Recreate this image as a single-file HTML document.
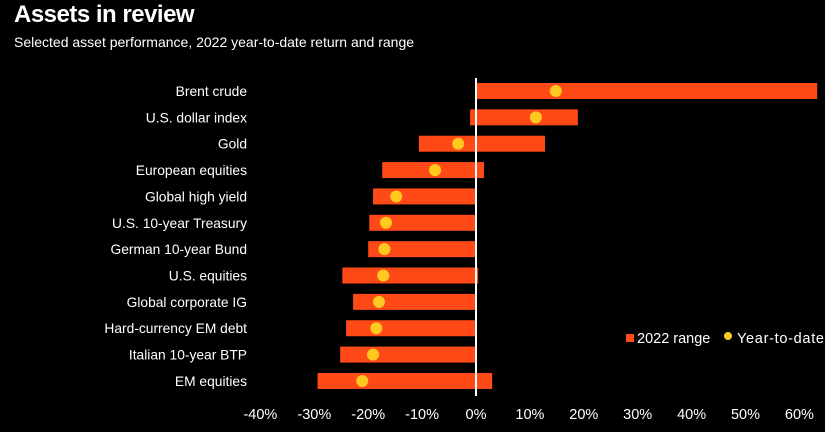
<!DOCTYPE html>
<html><head><meta charset="utf-8"><style>
html,body{margin:0;padding:0;background:#000;width:825px;height:432px;overflow:hidden}
body{font-family:"Liberation Sans",sans-serif;color:#fff;position:relative}
#title{position:absolute;left:14px;top:1px;font-size:24px;font-weight:bold;letter-spacing:-0.5px}
#sub{position:absolute;left:14px;top:34px;font-size:14px}
svg{position:absolute;left:0;top:0}
</style></head><body>
<div id="title">Assets in review</div>
<div id="sub">Selected asset performance, 2022 year-to-date return and range</div>
<svg id="chart" width="825" height="432"></svg>
<script>
const categories=["Brent crude","U.S. dollar index","Gold","European equities","Global high yield","U.S. 10-year Treasury","German 10-year Bund","U.S. equities","Global corporate IG","Hard-currency EM debt","Italian 10-year BTP","EM equities"];
const rangeLow=[0,-1.1,-10.6,-17.4,-19.1,-19.8,-20,-24.8,-22.8,-24.1,-25.2,-29.4];
const rangeHigh=[63.3,18.9,12.8,1.5,0,0,0,0.4,0,0,0,3.0];
const ytd=[14.8,11.1,-3.3,-7.6,-14.8,-16.7,-17,-17.2,-18,-18.5,-19.1,-21.1];
const ticks=[-40,-30,-20,-10,0,10,20,30,40,50,60];
const NS="http://www.w3.org/2000/svg";
const svg=document.getElementById('chart');
const x=v=>476+v*5.39;
const y=i=>91+i*26.36;
function mk(t,a){const e=document.createElementNS(NS,t);for(const k in a)e.setAttribute(k,a[k]);svg.appendChild(e);return e;}
categories.forEach((c,i)=>{
  const b=mk('rect',{x:x(rangeLow[i]),y:y(i)-8,width:x(rangeHigh[i])-x(rangeLow[i]),height:16,fill:'#ff4a17'});
  
  
  const l=mk('text',{x:247,y:y(i)+5,'text-anchor':'end','font-size':13.8,fill:'#fff'});
  l.textContent=c;
  
  
});
const z=mk('line',{x1:x(0),x2:x(0),y1:78,y2:396,stroke:'#fff','stroke-width':2});


categories.forEach((c,i)=>{
  const d=mk('circle',{cx:x(ytd[i]),cy:y(i),r:6,fill:'#ffc91f'});
  
  
});
ticks.forEach(t=>{
  const e=mk('text',{x:x(t),y:419,'text-anchor':'middle','font-size':14.5,fill:'#fff'});
  e.textContent=t+'%';
  
  
});
const at=mk('text',{x:x(10),y:444,'text-anchor':'middle','font-size':14.5,fill:'#fff'});
at.textContent='Total return';


const g=mk('g',{});


const lr=document.createElementNS(NS,'rect');lr.setAttribute('x',626);lr.setAttribute('y',334);lr.setAttribute('width',8);lr.setAttribute('height',8);lr.setAttribute('fill','#ff4a17');g.appendChild(lr);
const lt=document.createElementNS(NS,'text');lt.setAttribute('x',637);lt.setAttribute('y',343);lt.setAttribute('font-size',14.5);lt.setAttribute('fill','#fff');lt.textContent='2022 range';g.appendChild(lt);
const lc=document.createElementNS(NS,'circle');lc.setAttribute('cx',728);lc.setAttribute('cy',336);lc.setAttribute('r',4);lc.setAttribute('fill','#ffc91f');g.appendChild(lc);
const lt2=document.createElementNS(NS,'text');lt2.setAttribute('x',737);lt2.setAttribute('y',343);lt2.setAttribute('font-size',14.5);lt2.setAttribute('fill','#fff');lt2.setAttribute('textLength',87);lt2.textContent='Year-to-date';g.appendChild(lt2);
</script>
</body></html>
